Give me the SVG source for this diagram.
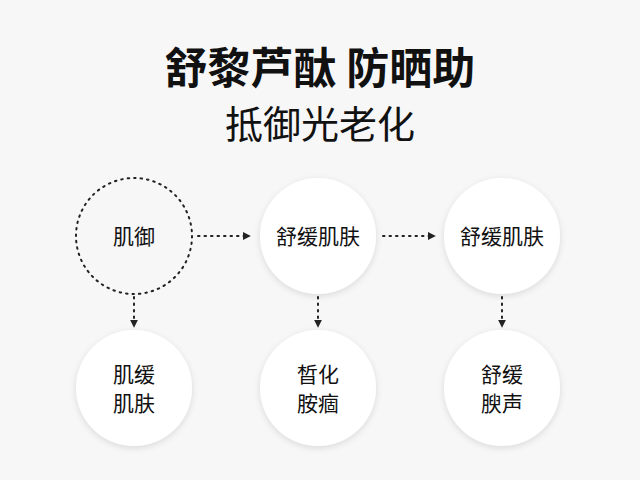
<svg xmlns="http://www.w3.org/2000/svg" width="640" height="480" viewBox="0 0 640 480">
<defs>
<filter id="sh" x="-30%" y="-30%" width="160%" height="160%"><feDropShadow dx="0" dy="2" stdDeviation="3" flood-color="#000" flood-opacity="0.12"/></filter>
<marker id="ar" viewBox="0 0 10 10" refX="9" refY="5" markerWidth="8" markerHeight="8" markerUnits="userSpaceOnUse" orient="auto"><path d="M0,0L10,5L0,10Z" fill="#222"/></marker>
</defs>
<style>
.c{fill:#fff;filter:url(#sh)}
.t{font-family:"Noto Sans CJK SC",sans-serif;font-size:21px;fill:#111;text-anchor:middle}
.l{stroke:#222;stroke-width:2;stroke-dasharray:1.5 5;stroke-linecap:round;fill:none;marker-end:url(#ar)}
</style>
<rect width="640" height="480" fill="#f7f7f7"/>
<text x="320" y="84" font-family="Noto Sans CJK SC,sans-serif" font-size="43" font-weight="bold" text-anchor="middle" fill="#111">舒黎芦酞 防晒助</text>
<text x="320" y="138" font-family="Noto Sans CJK SC,sans-serif" font-size="38" text-anchor="middle" fill="#111">抵御光老化</text>
<g id="n1"><circle cx="134" cy="236" r="58" fill="#f7f7f7" stroke="#222" stroke-width="2" stroke-dasharray="1.5 5" stroke-linecap="round"/><text class="t" x="134" y="244">肌御</text></g>
<g id="n2"><circle class="c" cx="318" cy="236" r="58"/><text class="t" x="318" y="244">舒缓肌肤</text></g>
<g id="n3"><circle class="c" cx="502" cy="236" r="58"/><text class="t" x="502" y="244">舒缓肌肤</text></g>
<g id="n4"><circle class="c" cx="134" cy="388" r="58"/><text class="t" x="134" y="382">肌缓</text><text class="t" x="134" y="411">肌肤</text></g>
<g id="n5"><circle class="c" cx="318" cy="388" r="58"/><text class="t" x="318" y="382">晳化</text><text class="t" x="318" y="411">胺痼</text></g>
<g id="n6"><circle class="c" cx="502" cy="388" r="58"/><text class="t" x="502" y="382">舒缓</text><text class="t" x="502" y="411">腴声</text></g>
<g id="edges">
<line class="l" x1="198" y1="236" x2="250" y2="236"/>
<line class="l" x1="383" y1="236" x2="435" y2="236"/>
<line class="l" x1="134" y1="297" x2="134" y2="327"/>
<line class="l" x1="318" y1="297" x2="318" y2="327"/>
<line class="l" x1="502" y1="297" x2="502" y2="327"/>
</g>
</svg>
